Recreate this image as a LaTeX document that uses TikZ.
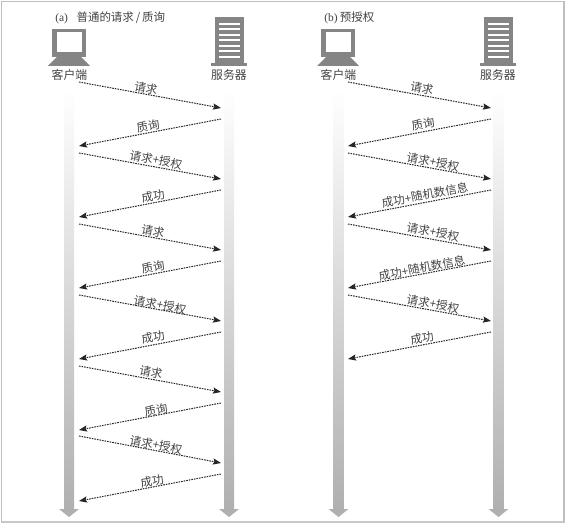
\documentclass[tikz,border=0pt]{standalone}
\usepackage{fontspec}
\setmainfont{Liberation Serif}
\newfontfamily\cjk{Noto Sans CJK SC}
\usetikzlibrary{arrows.meta}
\definecolor{icon}{HTML}{858585}
\definecolor{ink}{HTML}{444444}
\tikzset{
  x=0.75pt,y=-0.75pt,
  bandbody/.style={draw=none,top color=white,bottom color=black!31},
  bandhead/.style={draw=none,fill=black!31},
  msgline/.style={draw=black!85,line width=0.75pt,line cap=butt,dash pattern=on 1.2pt off 0.75pt,-{Stealth[length=6pt,width=4.6pt,inset=1pt,color=black!85]}},
  msglabel/.style={font=\cjk\fontsize{8.7}{9}\selectfont,text=ink,inner sep=0pt},
  actorname/.style={font=\cjk\fontsize{8.9}{10}\selectfont,text=ink,inner sep=0pt},
  titletext/.style={text=ink,inner sep=0pt,font=\fontsize{8.6}{10}\selectfont,anchor=west},
  iconfill/.style={fill=icon,draw=none},
}
\newcommand{\lifeline}[1]{%
  \fill[bandbody] (#1-5,90) rectangle (#1+5,509);
  \fill[bandhead] (#1-10,509) -- (#1+10,509) -- (#1,517) -- cycle;
}
% args: id, start x, end x, start y, end y, label, lx, ly, angle
\newcommand{\msgarrow}[9]{%
  \coordinate (#1s) at (#2,#4);
  \coordinate (#1e) at (#3,#5);
  \draw[msgline] (#1s) -- (#1e);
  \node[msglabel,rotate=#9] (#1l) at (#7,#8) {#6};
}
\newcommand{\clientIcon}[2]{%
  \fill[iconfill] (#1-17,29) rectangle (#1+17,57);
  \fill[white] (#1-12,32.5) rectangle (#1+13,52.5);
  \fill[iconfill] (#1-12,57) -- (#1+12,57) -- (#1+21,66) -- (#1-21,66) -- cycle;
  \node[actorname] (#2) at (#1+0.5,75) {客户端};
}
\newcommand{\serverIcon}[2]{%
  \fill[iconfill] (#1-14.5,17) rectangle (#1+14.5,63);
  \fill[iconfill] (#1-18,63) rectangle (#1+18,66);
  \foreach \yy in {23,28.5,34,39.5,45,50.5,56}{
    \fill[white] (#1-10.5,\yy) rectangle (#1+10.5,\yy+2);
  }
  \node[actorname] (#2) at (#1,75) {服务器};
}
\begin{document}
\begin{tikzpicture}
\useasboundingbox (0,0) rectangle (566,524);
\fill[white] (0,0) rectangle (566,524);
\draw[black!25,line width=0.9pt] (1.5,522) -- (1.5,1.5) -- (564,1.5) -- (564,522) -- cycle;
\draw[black!22,line width=1.4pt] (1.5,522) -- (564,522);
\node[titletext] (ta) at (55,18) {(a)\hspace{0.75em}{\cjk 普通的请求\,/\,质询}};
\node[titletext] (tb) at (324,18) {(b)\hspace{0.2em}{\cjk 预授权}};
\lifeline{69}\lifeline{229}\lifeline{338.5}\lifeline{498.5}
\clientIcon{69}{ca}
\serverIcon{229}{sa}
\clientIcon{338}{cb}
\serverIcon{498}{sb}
% (a)
\msgarrow{a1}{79}{221}{82}{108}{请求}{146}{88}{-10.5}
\msgarrow{a2}{221}{79}{119}{146}{质询}{148}{126}{10.5}
\msgarrow{a3}{79}{221}{153}{179}{请求+授权}{156}{160}{-10.5}
\msgarrow{a4}{221}{79}{190}{217}{成功}{153}{196}{10.5}
\msgarrow{a5}{79}{221}{224}{250}{请求}{153}{231}{-10.5}
\msgarrow{a6}{221}{79}{261}{288}{质询}{153}{267}{10.5}
\msgarrow{a7}{79}{221}{295}{321}{请求+授权}{160}{305}{-10.5}
\msgarrow{a8}{221}{79}{332}{359}{成功}{153}{337}{10.5}
\msgarrow{a9}{79}{221}{366}{392}{请求}{151}{372}{-10.5}
\msgarrow{a10}{221}{79}{403}{430}{质询}{156}{410}{10.5}
\msgarrow{a11}{79}{221}{436}{463}{请求+授权}{156}{445}{-10.5}
\msgarrow{a12}{221}{79}{474}{501}{成功}{152}{481}{10.5}
% (b)
\msgarrow{b1}{348}{491}{82}{108}{请求}{422}{88}{-10.5}
\msgarrow{b2}{491}{348}{119}{146}{质询}{423}{124}{10.5}
\msgarrow{b3}{348}{491}{153}{179}{请求+授权}{433}{162}{-10.5}
\msgarrow{b4}{491}{348}{190}{217}{成功+随机数信息}{425}{195}{10.5}
\msgarrow{b5}{348}{491}{224}{250}{请求+授权}{433}{232}{-10.5}
\msgarrow{b6}{491}{348}{261}{288}{成功+随机数信息}{422}{268}{10.5}
\msgarrow{b7}{348}{491}{295}{321}{请求+授权}{433}{304}{-10.5}
\msgarrow{b8}{491}{348}{332}{359}{成功}{422}{338}{10.5}
\end{tikzpicture}
\end{document}
